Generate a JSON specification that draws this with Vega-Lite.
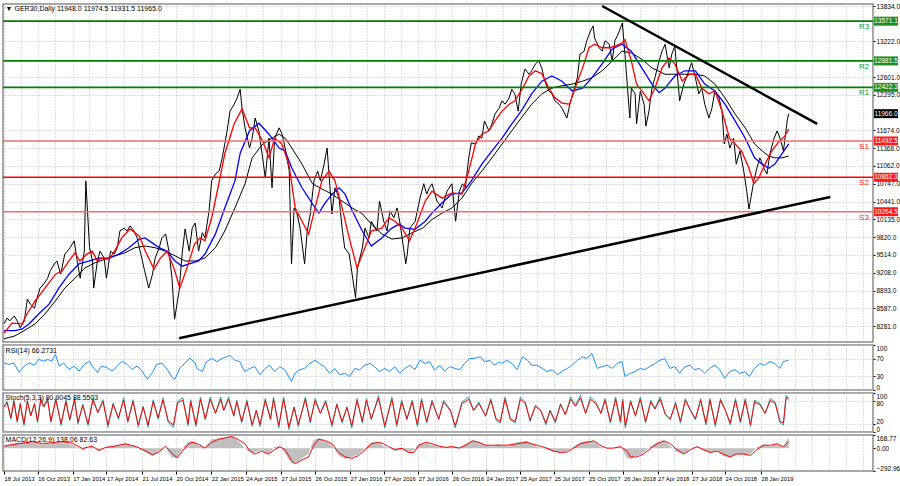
{
"$schema": "https://vega.github.io/schema/vega-lite/v6.json",
"background": "white",
"padding": {"left": 0, "top": 0, "right": 0, "bottom": 0},
"spacing": 3,
"bounds": "flush",
"config": {
 "view": {"stroke": "#8c8c8c", "strokeWidth": 1.5},
 "font": "Liberation Sans",
 "axis": {"labelFont": "Liberation Sans", "labelFontSize": 6.5, "labelColor": "#000000", "tickColor": "#000000", "domain": false, "gridColor": "#bcbcd0", "gridDash": [1, 2], "gridWidth": 1, "labelOverlap": false, "tickCount": 100}
},
"datasets": {
 "price": [
{"d":"2013-07-18","p":8320},{"d":"2013-07-26","p":8420},{"d":"2013-08-02","p":8370},{"d":"2013-08-14","p":8455},{"d":"2013-08-22","p":8370},{"d":"2013-08-30","p":8250},{"d":"2013-09-10","p":8370},{"d":"2013-09-18","p":8750},{"d":"2013-09-26","p":8660},{"d":"2013-10-07","p":8590},{"d":"2013-10-14","p":8770},{"d":"2013-10-22","p":8940},{"d":"2013-11-01","p":9010},{"d":"2013-11-11","p":9110},{"d":"2013-11-18","p":9240},{"d":"2013-11-29","p":9360},{"d":"2013-12-06","p":9410},{"d":"2013-12-16","p":9180},{"d":"2013-12-27","p":9530},{"d":"2014-01-03","p":9580},{"d":"2014-01-10","p":9640},{"d":"2014-01-21","p":9760},{"d":"2014-01-29","p":9410},{"d":"2014-02-06","p":9110},{"d":"2014-02-17","p":9580},{"d":"2014-02-21","p":10800},{"d":"2014-03-03","p":9640},{"d":"2014-03-11","p":9410},{"d":"2014-03-14","p":8940},{"d":"2014-03-24","p":9410},{"d":"2014-03-31","p":9580},{"d":"2014-04-11","p":9460},{"d":"2014-04-17","p":9110},{"d":"2014-04-28","p":9580},{"d":"2014-05-08","p":9530},{"d":"2014-05-16","p":9640},{"d":"2014-05-23","p":9930},{"d":"2014-06-03","p":9980},{"d":"2014-06-11","p":9930},{"d":"2014-06-19","p":10020},{"d":"2014-06-30","p":9930},{"d":"2014-07-08","p":9810},{"d":"2014-07-16","p":9580},{"d":"2014-07-28","p":9240},{"d":"2014-08-08","p":8940},{"d":"2014-08-18","p":9180},{"d":"2014-08-25","p":9460},{"d":"2014-09-05","p":9640},{"d":"2014-09-12","p":9810},{"d":"2014-09-22","p":9880},{"d":"2014-10-01","p":9580},{"d":"2014-10-09","p":9110},{"d":"2014-10-16","p":8400},{"d":"2014-10-28","p":8890},{"d":"2014-11-05","p":9530},{"d":"2014-11-13","p":9965},{"d":"2014-11-24","p":9580},{"d":"2014-12-02","p":9980},{"d":"2014-12-10","p":10070},{"d":"2014-12-19","p":9580},{"d":"2014-12-29","p":9900},{"d":"2015-01-05","p":9810},{"d":"2015-01-16","p":10280},{"d":"2015-01-23","p":10800},{"d":"2015-02-02","p":10920},{"d":"2015-02-12","p":10970},{"d":"2015-02-20","p":11200},{"d":"2015-02-25","p":11370},{"d":"2015-03-05","p":11665},{"d":"2015-03-13","p":12010},{"d":"2015-03-24","p":12130},{"d":"2015-04-01","p":12240},{"d":"2015-04-09","p":12390},{"d":"2015-04-14","p":12060},{"d":"2015-04-22","p":11720},{"d":"2015-05-04","p":11370},{"d":"2015-05-11","p":11540},{"d":"2015-05-19","p":11890},{"d":"2015-05-29","p":11665},{"d":"2015-06-08","p":11200},{"d":"2015-06-15","p":10850},{"d":"2015-06-25","p":11540},{"d":"2015-07-03","p":10680},{"d":"2015-07-10","p":11540},{"d":"2015-07-22","p":11720},{"d":"2015-07-30","p":11610},{"d":"2015-08-07","p":11370},{"d":"2015-08-18","p":10970},{"d":"2015-08-24","p":9360},{"d":"2015-08-31","p":10330},{"d":"2015-09-08","p":10225},{"d":"2015-09-16","p":9980},{"d":"2015-09-28","p":9360},{"d":"2015-10-05","p":9930},{"d":"2015-10-13","p":10225},{"d":"2015-10-23","p":10800},{"d":"2015-11-02","p":10970},{"d":"2015-11-09","p":10800},{"d":"2015-11-19","p":11090},{"d":"2015-11-27","p":11370},{"d":"2015-12-02","p":10920},{"d":"2015-12-10","p":10225},{"d":"2015-12-18","p":10680},{"d":"2015-12-29","p":10500},{"d":"2016-01-06","p":9980},{"d":"2016-01-13","p":9635},{"d":"2016-01-25","p":9530},{"d":"2016-02-11","p":8770},{"d":"2016-02-16","p":9290},{"d":"2016-02-29","p":9635},{"d":"2016-03-07","p":9980},{"d":"2016-03-18","p":9810},{"d":"2016-03-24","p":10100},{"d":"2016-04-08","p":9930},{"d":"2016-04-15","p":10450},{"d":"2016-04-26","p":10100},{"d":"2016-05-05","p":9930},{"d":"2016-05-13","p":10280},{"d":"2016-05-23","p":10160},{"d":"2016-06-01","p":10330},{"d":"2016-06-09","p":10050},{"d":"2016-06-24","p":9360},{"d":"2016-06-28","p":9530},{"d":"2016-07-05","p":9980},{"d":"2016-07-19","p":10100},{"d":"2016-08-01","p":10500},{"d":"2016-08-11","p":10750},{"d":"2016-08-19","p":10570},{"d":"2016-08-26","p":10680},{"d":"2016-09-02","p":10750},{"d":"2016-09-15","p":10450},{"d":"2016-09-29","p":10330},{"d":"2016-10-12","p":10620},{"d":"2016-10-25","p":10750},{"d":"2016-11-04","p":10100},{"d":"2016-11-14","p":10620},{"d":"2016-11-22","p":10750},{"d":"2016-11-30","p":10680},{"d":"2016-12-09","p":11200},{"d":"2016-12-16","p":11460},{"d":"2016-12-27","p":11440},{"d":"2017-01-05","p":11580},{"d":"2017-01-13","p":11540},{"d":"2017-01-20","p":11840},{"d":"2017-02-01","p":11665},{"d":"2017-02-09","p":11790},{"d":"2017-02-17","p":11960},{"d":"2017-02-28","p":12060},{"d":"2017-03-08","p":12190},{"d":"2017-03-16","p":12130},{"d":"2017-03-27","p":12240},{"d":"2017-04-03","p":12390},{"d":"2017-04-11","p":12310},{"d":"2017-04-20","p":12010},{"d":"2017-04-28","p":12480},{"d":"2017-05-08","p":12740},{"d":"2017-05-19","p":12650},{"d":"2017-05-26","p":12710},{"d":"2017-06-05","p":12830},{"d":"2017-06-14","p":12880},{"d":"2017-06-22","p":12760},{"d":"2017-06-30","p":12530},{"d":"2017-07-11","p":12360},{"d":"2017-07-19","p":12310},{"d":"2017-07-27","p":12190},{"d":"2017-08-07","p":12130},{"d":"2017-08-15","p":12060},{"d":"2017-08-28","p":11890},{"d":"2017-09-05","p":12130},{"d":"2017-09-15","p":12360},{"d":"2017-09-25","p":12590},{"d":"2017-10-02","p":13000},{"d":"2017-10-13","p":13050},{"d":"2017-10-20","p":13230},{"d":"2017-10-30","p":13400},{"d":"2017-11-06","p":13490},{"d":"2017-11-10","p":13280},{"d":"2017-11-22","p":13110},{"d":"2017-11-30","p":13050},{"d":"2017-12-08","p":13230},{"d":"2017-12-19","p":13170},{"d":"2017-12-27","p":12880},{"d":"2018-01-03","p":13230},{"d":"2018-01-12","p":13350},{"d":"2018-01-23","p":13540},{"d":"2018-01-30","p":13000},{"d":"2018-02-05","p":12480},{"d":"2018-02-09","p":12130},{"d":"2018-02-12","p":11890},{"d":"2018-02-16","p":12410},{"d":"2018-02-26","p":12310},{"d":"2018-03-02","p":11790},{"d":"2018-03-12","p":12360},{"d":"2018-03-22","p":12130},{"d":"2018-03-27","p":11750},{"d":"2018-04-04","p":12010},{"d":"2018-04-12","p":12410},{"d":"2018-04-20","p":12590},{"d":"2018-05-01","p":12880},{"d":"2018-05-09","p":13050},{"d":"2018-05-17","p":13170},{"d":"2018-05-28","p":12760},{"d":"2018-06-04","p":13000},{"d":"2018-06-12","p":13140},{"d":"2018-06-18","p":12710},{"d":"2018-06-25","p":12190},{"d":"2018-07-06","p":12480},{"d":"2018-07-13","p":12590},{"d":"2018-07-27","p":12850},{"d":"2018-08-06","p":12590},{"d":"2018-08-15","p":12310},{"d":"2018-08-23","p":12410},{"d":"2018-08-31","p":12130},{"d":"2018-09-11","p":11890},{"d":"2018-09-19","p":12060},{"d":"2018-09-27","p":12360},{"d":"2018-10-08","p":12240},{"d":"2018-10-16","p":12010},{"d":"2018-10-22","p":11440},{"d":"2018-10-29","p":11610},{"d":"2018-11-06","p":11370},{"d":"2018-11-16","p":11540},{"d":"2018-11-23","p":11090},{"d":"2018-12-03","p":11320},{"d":"2018-12-13","p":10970},{"d":"2018-12-21","p":10620},{"d":"2018-12-27","p":10310},{"d":"2019-01-09","p":10800},{"d":"2019-01-17","p":11020},{"d":"2019-01-25","p":11200},{"d":"2019-02-05","p":11020},{"d":"2019-02-13","p":10920},{"d":"2019-02-21","p":11270},{"d":"2019-03-04","p":11540},{"d":"2019-03-12","p":11665},{"d":"2019-03-20","p":11540},{"d":"2019-03-29","p":11320},{"d":"2019-04-08","p":11840},{"d":"2019-04-12","p":11965}
 ],
 "ma_fast": [
{"d":"2013-07-18","p":8160},{"d":"2013-08-08","p":8330},{"d":"2013-09-04","p":8320},{"d":"2013-09-17","p":8490},{"d":"2013-10-09","p":8720},{"d":"2013-11-04","p":8940},{"d":"2013-12-02","p":9180},{"d":"2013-12-20","p":9240},{"d":"2014-01-07","p":9410},{"d":"2014-01-23","p":9550},{"d":"2014-02-05","p":9410},{"d":"2014-02-24","p":9530},{"d":"2014-03-10","p":9580},{"d":"2014-03-24","p":9410},{"d":"2014-04-04","p":9460},{"d":"2014-04-24","p":9440},{"d":"2014-05-09","p":9580},{"d":"2014-05-28","p":9810},{"d":"2014-06-19","p":9965},{"d":"2014-07-14","p":9840},{"d":"2014-07-30","p":9580},{"d":"2014-08-22","p":9270},{"d":"2014-09-08","p":9460},{"d":"2014-09-26","p":9580},{"d":"2014-10-14","p":9290},{"d":"2014-10-30","p":8940},{"d":"2014-11-18","p":9290},{"d":"2014-12-08","p":9700},{"d":"2014-12-23","p":9810},{"d":"2015-01-05","p":9760},{"d":"2015-01-23","p":10160},{"d":"2015-02-11","p":10750},{"d":"2015-02-27","p":11270},{"d":"2015-03-24","p":11790},{"d":"2015-04-14","p":12050},{"d":"2015-05-04","p":11720},{"d":"2015-05-19","p":11720},{"d":"2015-06-08","p":11490},{"d":"2015-06-25","p":11200},{"d":"2015-07-10","p":11540},{"d":"2015-07-29","p":11440},{"d":"2015-08-17","p":11090},{"d":"2015-09-03","p":10330},{"d":"2015-09-21","p":10100},{"d":"2015-10-09","p":9880},{"d":"2015-10-26","p":10330},{"d":"2015-11-13","p":10800},{"d":"2015-12-02","p":10970},{"d":"2015-12-18","p":10800},{"d":"2016-01-06","p":10330},{"d":"2016-01-25","p":9810},{"d":"2016-02-15","p":9290},{"d":"2016-03-07","p":9640},{"d":"2016-03-24","p":9930},{"d":"2016-04-21","p":9980},{"d":"2016-05-10","p":10160},{"d":"2016-05-26","p":10100},{"d":"2016-06-14","p":9980},{"d":"2016-07-04","p":9760},{"d":"2016-07-19","p":9980},{"d":"2016-08-15","p":10450},{"d":"2016-09-02","p":10620},{"d":"2016-09-29","p":10500},{"d":"2016-10-25","p":10590},{"d":"2016-11-21","p":10570},{"d":"2016-12-09","p":10970},{"d":"2016-12-27","p":11440},{"d":"2017-01-13","p":11610},{"d":"2017-02-01","p":11670},{"d":"2017-02-17","p":11840},{"d":"2017-03-08","p":12010},{"d":"2017-03-27","p":12130},{"d":"2017-04-11","p":12190},{"d":"2017-04-28","p":12360},{"d":"2017-05-19","p":12620},{"d":"2017-06-05","p":12710},{"d":"2017-06-22","p":12660},{"d":"2017-07-11","p":12410},{"d":"2017-07-27","p":12240},{"d":"2017-08-15","p":12150},{"d":"2017-09-04","p":12130},{"d":"2017-09-19","p":12410},{"d":"2017-10-09","p":12760},{"d":"2017-10-26","p":13110},{"d":"2017-11-10","p":13170},{"d":"2017-11-30","p":13110},{"d":"2017-12-19","p":13110},{"d":"2018-01-04","p":13140},{"d":"2018-01-22","p":13190},{"d":"2018-01-30","p":13250},{"d":"2018-02-16","p":12880},{"d":"2018-03-02","p":12480},{"d":"2018-03-16","p":12360},{"d":"2018-04-04","p":12190},{"d":"2018-04-20","p":12410},{"d":"2018-05-09","p":12760},{"d":"2018-05-28","p":12930},{"d":"2018-06-12","p":12830},{"d":"2018-07-02","p":12530},{"d":"2018-07-20","p":12650},{"d":"2018-08-06","p":12650},{"d":"2018-08-23","p":12410},{"d":"2018-09-11","p":12310},{"d":"2018-09-27","p":12360},{"d":"2018-10-16","p":12010},{"d":"2018-11-05","p":11540},{"d":"2018-11-20","p":11440},{"d":"2018-12-07","p":11320},{"d":"2018-12-27","p":11020},{"d":"2019-01-09","p":10750},{"d":"2019-01-22","p":10850},{"d":"2019-02-08","p":11090},{"d":"2019-02-26","p":11320},{"d":"2019-03-18","p":11490},{"d":"2019-04-02","p":11580},{"d":"2019-04-12","p":11700}
 ],
 "ma_mid": [
{"d":"2013-07-18","p":8200},{"d":"2013-08-16","p":8200},{"d":"2013-09-04","p":8230},{"d":"2013-09-23","p":8320},{"d":"2013-10-18","p":8490},{"d":"2013-11-15","p":8660},{"d":"2013-12-11","p":8940},{"d":"2014-01-07","p":9180},{"d":"2014-02-03","p":9360},{"d":"2014-03-03","p":9410},{"d":"2014-03-28","p":9460},{"d":"2014-04-24","p":9460},{"d":"2014-05-21","p":9530},{"d":"2014-06-16","p":9640},{"d":"2014-07-14","p":9790},{"d":"2014-07-29","p":9810},{"d":"2014-08-18","p":9720},{"d":"2014-09-05","p":9640},{"d":"2014-09-26","p":9580},{"d":"2014-10-17","p":9410},{"d":"2014-11-05","p":9320},{"d":"2014-11-24","p":9360},{"d":"2014-12-19","p":9410},{"d":"2015-01-05","p":9530},{"d":"2015-02-02","p":9880},{"d":"2015-02-27","p":10330},{"d":"2015-03-26","p":10800},{"d":"2015-04-09","p":11280},{"d":"2015-05-04","p":11670},{"d":"2015-05-29","p":11800},{"d":"2015-06-25","p":11610},{"d":"2015-07-22","p":11370},{"d":"2015-08-07","p":11320},{"d":"2015-08-25","p":11020},{"d":"2015-09-21","p":10680},{"d":"2015-10-19","p":10400},{"d":"2015-11-05","p":10240},{"d":"2015-11-20","p":10400},{"d":"2015-12-10","p":10570},{"d":"2015-12-29","p":10680},{"d":"2016-01-14","p":10570},{"d":"2016-02-02","p":10280},{"d":"2016-02-29","p":9930},{"d":"2016-03-24","p":9670},{"d":"2016-04-21","p":9810},{"d":"2016-05-18","p":9980},{"d":"2016-06-06","p":10050},{"d":"2016-06-22","p":9980},{"d":"2016-07-19","p":9960},{"d":"2016-08-15","p":10100},{"d":"2016-09-02","p":10240},{"d":"2016-09-29","p":10420},{"d":"2016-10-25","p":10570},{"d":"2016-11-21","p":10590},{"d":"2016-12-16","p":10800},{"d":"2017-01-13","p":11090},{"d":"2017-02-09","p":11320},{"d":"2017-03-08","p":11540},{"d":"2017-04-03","p":11790},{"d":"2017-04-28","p":12010},{"d":"2017-05-26","p":12310},{"d":"2017-06-22","p":12530},{"d":"2017-07-19","p":12620},{"d":"2017-08-15","p":12530},{"d":"2017-09-11","p":12360},{"d":"2017-10-09","p":12410},{"d":"2017-11-03","p":12590},{"d":"2017-11-30","p":12830},{"d":"2017-12-27","p":13090},{"d":"2018-01-22","p":13170},{"d":"2018-02-16","p":13050},{"d":"2018-03-16","p":12760},{"d":"2018-04-12","p":12480},{"d":"2018-05-01","p":12330},{"d":"2018-05-17","p":12410},{"d":"2018-06-12","p":12620},{"d":"2018-07-09","p":12710},{"d":"2018-08-06","p":12710},{"d":"2018-08-31","p":12480},{"d":"2018-09-27","p":12360},{"d":"2018-10-24","p":12130},{"d":"2018-11-20","p":11840},{"d":"2018-12-17","p":11540},{"d":"2019-01-11","p":11200},{"d":"2019-01-31","p":11090},{"d":"2019-02-18","p":11020},{"d":"2019-03-06","p":11090},{"d":"2019-03-25","p":11270},{"d":"2019-04-12","p":11440}
 ],
 "ma_slow": [
{"d":"2013-07-18","p":8060},{"d":"2013-08-16","p":8110},{"d":"2013-09-09","p":8200},{"d":"2013-10-09","p":8320},{"d":"2013-11-04","p":8490},{"d":"2013-12-02","p":8720},{"d":"2013-12-27","p":8940},{"d":"2014-01-23","p":9110},{"d":"2014-02-19","p":9290},{"d":"2014-03-18","p":9380},{"d":"2014-04-14","p":9440},{"d":"2014-05-09","p":9500},{"d":"2014-06-05","p":9550},{"d":"2014-07-02","p":9640},{"d":"2014-07-29","p":9670},{"d":"2014-08-25","p":9640},{"d":"2014-09-22","p":9580},{"d":"2014-10-17","p":9500},{"d":"2014-11-13","p":9410},{"d":"2014-12-10","p":9410},{"d":"2015-01-05","p":9460},{"d":"2015-02-02","p":9640},{"d":"2015-02-27","p":9930},{"d":"2015-03-26","p":10330},{"d":"2015-04-22","p":10750},{"d":"2015-05-11","p":11200},{"d":"2015-06-08","p":11440},{"d":"2015-07-03","p":11540},{"d":"2015-07-22","p":11610},{"d":"2015-08-07","p":11540},{"d":"2015-08-25","p":11370},{"d":"2015-09-21","p":11090},{"d":"2015-10-19","p":10750},{"d":"2015-11-13","p":10660},{"d":"2015-12-10","p":10570},{"d":"2016-01-06","p":10450},{"d":"2016-02-02","p":10330},{"d":"2016-02-29","p":10230},{"d":"2016-03-24","p":10050},{"d":"2016-04-21","p":9880},{"d":"2016-05-18","p":9790},{"d":"2016-06-14","p":9810},{"d":"2016-07-11","p":9900},{"d":"2016-08-08","p":9980},{"d":"2016-09-02","p":10130},{"d":"2016-09-29","p":10240},{"d":"2016-10-25","p":10330},{"d":"2016-11-21","p":10500},{"d":"2016-12-16","p":10750},{"d":"2017-01-13","p":10970},{"d":"2017-02-09","p":11200},{"d":"2017-03-08","p":11440},{"d":"2017-04-03","p":11670},{"d":"2017-04-28","p":11890},{"d":"2017-05-26","p":12130},{"d":"2017-06-22","p":12310},{"d":"2017-07-19","p":12410},{"d":"2017-08-15","p":12450},{"d":"2017-09-11","p":12480},{"d":"2017-10-09","p":12530},{"d":"2017-11-03","p":12590},{"d":"2017-11-30","p":12710},{"d":"2017-12-27","p":12880},{"d":"2018-01-22","p":13050},{"d":"2018-02-16","p":13020},{"d":"2018-03-16","p":12910},{"d":"2018-04-12","p":12760},{"d":"2018-05-17","p":12650},{"d":"2018-06-12","p":12650},{"d":"2018-07-09","p":12650},{"d":"2018-08-06","p":12650},{"d":"2018-08-31","p":12620},{"d":"2018-09-27","p":12480},{"d":"2018-10-24","p":12240},{"d":"2018-11-20","p":11960},{"d":"2018-12-17","p":11720},{"d":"2019-01-11","p":11440},{"d":"2019-01-31","p":11320},{"d":"2019-02-18","p":11230},{"d":"2019-03-06","p":11200},{"d":"2019-03-25","p":11200},{"d":"2019-04-12","p":11230}
 ],
 "levels": [
{"name":"R3","p":13571.1},{"name":"R2","p":12881.5},{"name":"R1","p":12422.3},{"name":"S1","p":11492.5},{"name":"S2","p":10862.3},{"name":"S3","p":10264.5},{"name":"Last","p":11966.0}
 ],
 "trend": [
{"line":"upper","d":"2017-11-30","p":13834},{"line":"upper","d":"2019-06-27","p":11790},{"line":"lower","d":"2014-10-28","p":8070},{"line":"lower","d":"2019-08-01","p":10520}
 ],
 "rsi": [
{"d":"2013-07-18","v":60},{"d":"2013-07-31","v":57},{"d":"2013-08-13","v":60},{"d":"2013-08-27","v":39},{"d":"2013-09-09","v":53},{"d":"2013-09-23","v":60},{"d":"2013-10-07","v":55},{"d":"2013-10-18","v":68},{"d":"2013-11-01","v":64},{"d":"2013-11-11","v":68},{"d":"2013-11-22","v":64},{"d":"2013-12-02","v":79},{"d":"2013-12-12","v":53},{"d":"2013-12-24","v":60},{"d":"2014-01-07","v":46},{"d":"2014-01-21","v":53},{"d":"2014-02-03","v":42},{"d":"2014-02-17","v":57},{"d":"2014-03-03","v":64},{"d":"2014-03-10","v":53},{"d":"2014-03-24","v":39},{"d":"2014-04-04","v":53},{"d":"2014-04-18","v":50},{"d":"2014-05-02","v":42},{"d":"2014-05-16","v":53},{"d":"2014-05-29","v":64},{"d":"2014-06-11","v":57},{"d":"2014-06-24","v":46},{"d":"2014-07-08","v":53},{"d":"2014-07-21","v":42},{"d":"2014-08-04","v":24},{"d":"2014-08-18","v":39},{"d":"2014-08-29","v":57},{"d":"2014-09-12","v":60},{"d":"2014-09-26","v":46},{"d":"2014-10-09","v":28},{"d":"2014-10-17","v":24},{"d":"2014-10-31","v":50},{"d":"2014-11-13","v":60},{"d":"2014-11-26","v":71},{"d":"2014-12-10","v":60},{"d":"2014-12-14","v":48},{"d":"2014-12-29","v":41},{"d":"2015-01-09","v":63},{"d":"2015-01-23","v":70},{"d":"2015-02-06","v":63},{"d":"2015-02-19","v":70},{"d":"2015-03-04","v":74},{"d":"2015-03-13","v":77},{"d":"2015-03-26","v":66},{"d":"2015-04-08","v":63},{"d":"2015-04-21","v":41},{"d":"2015-05-05","v":48},{"d":"2015-05-18","v":52},{"d":"2015-06-01","v":34},{"d":"2015-06-15","v":48},{"d":"2015-06-26","v":55},{"d":"2015-07-10","v":41},{"d":"2015-07-24","v":52},{"d":"2015-08-06","v":45},{"d":"2015-08-24","v":19},{"d":"2015-09-02","v":37},{"d":"2015-09-15","v":45},{"d":"2015-09-28","v":48},{"d":"2015-10-12","v":59},{"d":"2015-10-26","v":66},{"d":"2015-11-06","v":59},{"d":"2015-11-20","v":52},{"d":"2015-12-04","v":37},{"d":"2015-12-17","v":48},{"d":"2015-12-30","v":34},{"d":"2016-01-13","v":37},{"d":"2016-01-26","v":30},{"d":"2016-02-09","v":48},{"d":"2016-02-22","v":45},{"d":"2016-03-07","v":55},{"d":"2016-03-21","v":59},{"d":"2016-04-01","v":52},{"d":"2016-04-15","v":41},{"d":"2016-04-29","v":48},{"d":"2016-05-12","v":41},{"d":"2016-05-26","v":52},{"d":"2016-06-08","v":37},{"d":"2016-06-22","v":48},{"d":"2016-07-05","v":55},{"d":"2016-07-18","v":45},{"d":"2016-08-01","v":66},{"d":"2016-08-15","v":59},{"d":"2016-08-26","v":63},{"d":"2016-09-09","v":45},{"d":"2016-09-23","v":55},{"d":"2016-10-06","v":41},{"d":"2016-10-19","v":52},{"d":"2016-11-02","v":48},{"d":"2016-11-15","v":45},{"d":"2016-11-28","v":59},{"d":"2016-12-12","v":70},{"d":"2016-12-23","v":70},{"d":"2017-01-09","v":74},{"d":"2017-01-20","v":63},{"d":"2017-02-03","v":66},{"d":"2017-02-16","v":55},{"d":"2017-03-02","v":63},{"d":"2017-03-07","v":59},{"d":"2017-03-21","v":66},{"d":"2017-04-03","v":59},{"d":"2017-04-17","v":45},{"d":"2017-05-01","v":74},{"d":"2017-05-15","v":66},{"d":"2017-05-26","v":55},{"d":"2017-06-09","v":55},{"d":"2017-06-23","v":48},{"d":"2017-07-06","v":41},{"d":"2017-07-20","v":45},{"d":"2017-08-02","v":34},{"d":"2017-08-15","v":41},{"d":"2017-08-29","v":48},{"d":"2017-09-11","v":55},{"d":"2017-09-25","v":66},{"d":"2017-10-09","v":74},{"d":"2017-10-20","v":70},{"d":"2017-11-03","v":81},{"d":"2017-11-17","v":48},{"d":"2017-11-30","v":52},{"d":"2017-12-13","v":55},{"d":"2017-12-27","v":48},{"d":"2018-01-09","v":59},{"d":"2018-01-22","v":63},{"d":"2018-01-30","v":30},{"d":"2018-02-13","v":37},{"d":"2018-02-26","v":41},{"d":"2018-03-12","v":48},{"d":"2018-03-23","v":45},{"d":"2018-04-06","v":52},{"d":"2018-04-20","v":59},{"d":"2018-05-03","v":66},{"d":"2018-05-16","v":70},{"d":"2018-05-30","v":48},{"d":"2018-06-12","v":52},{"d":"2018-06-25","v":37},{"d":"2018-07-09","v":52},{"d":"2018-07-23","v":55},{"d":"2018-08-03","v":45},{"d":"2018-08-17","v":48},{"d":"2018-08-31","v":37},{"d":"2018-09-13","v":48},{"d":"2018-09-27","v":55},{"d":"2018-10-10","v":45},{"d":"2018-10-23","v":26},{"d":"2018-11-06","v":41},{"d":"2018-11-19","v":45},{"d":"2018-12-03","v":37},{"d":"2018-12-17","v":41},{"d":"2018-12-28","v":30},{"d":"2019-01-11","v":48},{"d":"2019-01-25","v":59},{"d":"2019-02-07","v":55},{"d":"2019-02-21","v":63},{"d":"2019-03-06","v":59},{"d":"2019-03-19","v":48},{"d":"2019-03-29","v":63},{"d":"2019-04-12","v":66.27}
 ],
 "stoch": [
{"d":"2013-07-18","k":66,"s":64},{"d":"2013-07-26","k":79,"s":75},{"d":"2013-08-05","k":33,"s":36},{"d":"2013-08-13","k":83,"s":78},{"d":"2013-08-22","k":24,"s":28},{"d":"2013-08-30","k":75,"s":71},{"d":"2013-09-09","k":16,"s":21},{"d":"2013-09-18","k":83,"s":78},{"d":"2013-09-27","k":41,"s":42},{"d":"2013-10-07","k":75,"s":71},{"d":"2013-10-15","k":24,"s":28},{"d":"2013-10-24","k":88,"s":82},{"d":"2013-11-01","k":66,"s":64},{"d":"2013-11-11","k":88,"s":82},{"d":"2013-11-20","k":24,"s":28},{"d":"2013-12-03","k":88,"s":82},{"d":"2013-12-17","k":16,"s":21},{"d":"2013-12-30","k":83,"s":78},{"d":"2014-01-09","k":29,"s":32},{"d":"2014-01-22","k":88,"s":82},{"d":"2014-01-31","k":20,"s":25},{"d":"2014-02-13","k":71,"s":68},{"d":"2014-02-27","k":16,"s":21},{"d":"2014-03-12","k":88,"s":82},{"d":"2014-03-25","k":50,"s":50},{"d":"2014-04-08","k":83,"s":78},{"d":"2014-04-21","k":12,"s":18},{"d":"2014-05-05","k":75,"s":71},{"d":"2014-05-19","k":33,"s":36},{"d":"2014-06-02","k":88,"s":82},{"d":"2014-06-13","k":24,"s":28},{"d":"2014-06-27","k":83,"s":78},{"d":"2014-07-11","k":12,"s":18},{"d":"2014-07-24","k":66,"s":64},{"d":"2014-08-06","k":12,"s":18},{"d":"2014-08-20","k":83,"s":78},{"d":"2014-09-02","k":33,"s":36},{"d":"2014-09-15","k":88,"s":82},{"d":"2014-09-29","k":24,"s":28},{"d":"2014-10-13","k":12,"s":18},{"d":"2014-10-24","k":79,"s":75},{"d":"2014-11-07","k":88,"s":82},{"d":"2014-11-21","k":16,"s":21},{"d":"2014-11-28","k":83,"s":78},{"d":"2014-12-12","k":14,"s":19},{"d":"2014-12-24","k":90,"s":84},{"d":"2015-01-06","k":31,"s":34},{"d":"2015-01-19","k":90,"s":84},{"d":"2015-02-02","k":48,"s":48},{"d":"2015-02-16","k":90,"s":84},{"d":"2015-02-24","k":56,"s":55},{"d":"2015-03-09","k":90,"s":84},{"d":"2015-03-23","k":40,"s":42},{"d":"2015-03-31","k":82,"s":77},{"d":"2015-04-13","k":23,"s":27},{"d":"2015-04-27","k":82,"s":77},{"d":"2015-05-11","k":14,"s":19},{"d":"2015-05-22","k":56,"s":55},{"d":"2015-06-01","k":14,"s":19},{"d":"2015-06-15","k":86,"s":81},{"d":"2015-06-29","k":31,"s":34},{"d":"2015-07-07","k":90,"s":84},{"d":"2015-07-21","k":10,"s":16},{"d":"2015-08-03","k":90,"s":84},{"d":"2015-08-17","k":6,"s":13},{"d":"2015-08-31","k":65,"s":63},{"d":"2015-09-11","k":14,"s":19},{"d":"2015-09-30","k":90,"s":84},{"d":"2015-10-13","k":23,"s":27},{"d":"2015-10-26","k":86,"s":81},{"d":"2015-11-09","k":48,"s":48},{"d":"2015-11-23","k":82,"s":77},{"d":"2015-12-10","k":14,"s":19},{"d":"2015-12-23","k":73,"s":70},{"d":"2016-01-06","k":23,"s":27},{"d":"2016-01-19","k":65,"s":63},{"d":"2016-02-01","k":10,"s":16},{"d":"2016-02-15","k":86,"s":81},{"d":"2016-02-29","k":23,"s":27},{"d":"2016-03-11","k":86,"s":81},{"d":"2016-03-24","k":31,"s":34},{"d":"2016-04-12","k":94,"s":87},{"d":"2016-04-29","k":10,"s":16},{"d":"2016-05-18","k":90,"s":84},{"d":"2016-05-31","k":14,"s":19},{"d":"2016-06-13","k":82,"s":77},{"d":"2016-06-27","k":31,"s":34},{"d":"2016-07-11","k":82,"s":77},{"d":"2016-07-25","k":14,"s":19},{"d":"2016-08-05","k":86,"s":81},{"d":"2016-08-19","k":23,"s":27},{"d":"2016-09-02","k":82,"s":77},{"d":"2016-09-20","k":31,"s":34},{"d":"2016-10-03","k":82,"s":77},{"d":"2016-10-21","k":56,"s":55},{"d":"2016-11-03","k":10,"s":16},{"d":"2016-11-21","k":77,"s":73},{"d":"2016-12-09","k":90,"s":84},{"d":"2016-12-22","k":56,"s":55},{"d":"2017-01-05","k":77,"s":73},{"d":"2017-01-23","k":40,"s":42},{"d":"2017-02-06","k":86,"s":81},{"d":"2017-02-20","k":31,"s":34},{"d":"2017-03-03","k":23,"s":27},{"d":"2017-03-16","k":90,"s":84},{"d":"2017-03-30","k":31,"s":34},{"d":"2017-04-12","k":23,"s":27},{"d":"2017-04-26","k":90,"s":84},{"d":"2017-05-09","k":77,"s":73},{"d":"2017-05-22","k":27,"s":30},{"d":"2017-06-05","k":69,"s":66},{"d":"2017-06-19","k":56,"s":55},{"d":"2017-07-03","k":18,"s":23},{"d":"2017-07-14","k":56,"s":55},{"d":"2017-07-28","k":23,"s":27},{"d":"2017-08-11","k":73,"s":70},{"d":"2017-08-24","k":44,"s":45},{"d":"2017-09-07","k":90,"s":84},{"d":"2017-09-20","k":69,"s":66},{"d":"2017-10-03","k":94,"s":87},{"d":"2017-10-17","k":48,"s":48},{"d":"2017-10-30","k":90,"s":84},{"d":"2017-11-13","k":77,"s":73},{"d":"2017-11-27","k":48,"s":48},{"d":"2017-12-08","k":86,"s":81},{"d":"2017-12-22","k":23,"s":27},{"d":"2018-01-05","k":90,"s":84},{"d":"2018-01-18","k":23,"s":27},{"d":"2018-01-24","k":85,"s":80},{"d":"2018-01-31","k":10,"s":16},{"d":"2018-02-14","k":82,"s":77},{"d":"2018-02-27","k":40,"s":42},{"d":"2018-03-12","k":90,"s":84},{"d":"2018-03-26","k":23,"s":27},{"d":"2018-04-09","k":82,"s":77},{"d":"2018-04-20","k":61,"s":59},{"d":"2018-05-04","k":90,"s":84},{"d":"2018-05-18","k":44,"s":45},{"d":"2018-05-31","k":31,"s":34},{"d":"2018-06-14","k":77,"s":73},{"d":"2018-06-27","k":23,"s":27},{"d":"2018-07-10","k":86,"s":81},{"d":"2018-07-24","k":56,"s":55},{"d":"2018-08-06","k":31,"s":34},{"d":"2018-08-20","k":86,"s":81},{"d":"2018-09-03","k":18,"s":23},{"d":"2018-09-14","k":86,"s":81},{"d":"2018-09-28","k":14,"s":19},{"d":"2018-10-12","k":86,"s":81},{"d":"2018-10-25","k":56,"s":55},{"d":"2018-11-07","k":18,"s":23},{"d":"2018-11-21","k":86,"s":81},{"d":"2018-12-04","k":23,"s":27},{"d":"2018-12-17","k":86,"s":81},{"d":"2018-12-31","k":14,"s":19},{"d":"2019-01-11","k":82,"s":77},{"d":"2019-01-25","k":73,"s":70},{"d":"2019-02-08","k":48,"s":48},{"d":"2019-02-22","k":86,"s":81},{"d":"2019-03-07","k":77,"s":73},{"d":"2019-03-20","k":23,"s":27},{"d":"2019-03-29","k":18,"s":23},{"d":"2019-04-05","k":94,"s":87},{"d":"2019-04-12","k":80.9,"s":88.55}
 ],
 "macd": [
{"d":"2013-07-18","m":26,"s":26},{"d":"2013-08-08","m":56,"s":45},{"d":"2013-09-04","m":71,"s":64},{"d":"2013-10-02","m":71,"s":83},{"d":"2013-10-29","m":45,"s":56},{"d":"2013-11-22","m":64,"s":71},{"d":"2013-12-20","m":71,"s":83},{"d":"2014-01-16","m":45,"s":64},{"d":"2014-02-12","m":-30,"s":-4},{"d":"2014-03-10","m":26,"s":26},{"d":"2014-03-28","m":-41,"s":-30},{"d":"2014-04-14","m":8,"s":8},{"d":"2014-05-09","m":34,"s":26},{"d":"2014-06-06","m":56,"s":56},{"d":"2014-07-02","m":26,"s":26},{"d":"2014-07-29","m":-49,"s":-30},{"d":"2014-08-18","m":-105,"s":-86},{"d":"2014-09-04","m":-30,"s":-49},{"d":"2014-09-22","m":8,"s":26},{"d":"2014-10-09","m":-124,"s":-68},{"d":"2014-10-23","m":-124,"s":-124},{"d":"2014-11-10","m":26,"s":-11},{"d":"2014-11-24","m":83,"s":64},{"d":"2014-12-05","m":90,"s":75},{"d":"2014-12-19","m":35,"s":50},{"d":"2015-01-05","m":11,"s":0},{"d":"2015-01-23","m":113,"s":75},{"d":"2015-02-10","m":124,"s":113},{"d":"2015-02-27","m":131,"s":131},{"d":"2015-03-17","m":158,"s":150},{"d":"2015-04-03","m":94,"s":113},{"d":"2015-04-22","m":0,"s":56},{"d":"2015-05-05","m":-56,"s":-38},{"d":"2015-05-18","m":-56,"s":-75},{"d":"2015-06-05","m":-19,"s":-38},{"d":"2015-06-23","m":-75,"s":-75},{"d":"2015-07-10","m":19,"s":-19},{"d":"2015-07-24","m":26,"s":19},{"d":"2015-08-07","m":-75,"s":-19},{"d":"2015-08-25","m":-199,"s":-169},{"d":"2015-09-03","m":-188,"s":-199},{"d":"2015-09-21","m":-131,"s":-150},{"d":"2015-10-08","m":-75,"s":-113},{"d":"2015-10-21","m":94,"s":19},{"d":"2015-11-04","m":131,"s":113},{"d":"2015-11-20","m":94,"s":101},{"d":"2015-12-10","m":38,"s":56},{"d":"2015-12-28","m":-94,"s":-56},{"d":"2016-01-14","m":-139,"s":-113},{"d":"2016-02-01","m":-113,"s":-131},{"d":"2016-02-19","m":-75,"s":-94},{"d":"2016-03-08","m":0,"s":-19},{"d":"2016-03-24","m":75,"s":56},{"d":"2016-04-12","m":75,"s":75},{"d":"2016-04-26","m":26,"s":56},{"d":"2016-05-09","m":0,"s":19},{"d":"2016-05-27","m":-38,"s":-19},{"d":"2016-06-14","m":-19,"s":0},{"d":"2016-07-01","m":-56,"s":-56},{"d":"2016-07-15","m":-26,"s":-56},{"d":"2016-07-29","m":56,"s":38},{"d":"2016-08-16","m":64,"s":75},{"d":"2016-09-02","m":38,"s":56},{"d":"2016-09-21","m":19,"s":26},{"d":"2016-10-07","m":11,"s":11},{"d":"2016-10-26","m":26,"s":19},{"d":"2016-11-14","m":11,"s":0},{"d":"2016-12-01","m":56,"s":38},{"d":"2016-12-19","m":101,"s":94},{"d":"2017-01-05","m":75,"s":75},{"d":"2017-01-23","m":38,"s":38},{"d":"2017-02-09","m":26,"s":38},{"d":"2017-02-22","m":49,"s":38},{"d":"2017-03-21","m":26,"s":38},{"d":"2017-04-17","m":75,"s":56},{"d":"2017-05-12","m":94,"s":75},{"d":"2017-06-09","m":19,"s":38},{"d":"2017-07-06","m":-19,"s":0},{"d":"2017-07-24","m":-49,"s":-38},{"d":"2017-08-11","m":-56,"s":-56},{"d":"2017-08-29","m":-38,"s":-49},{"d":"2017-09-15","m":26,"s":0},{"d":"2017-10-03","m":75,"s":56},{"d":"2017-10-20","m":94,"s":75},{"d":"2017-11-08","m":86,"s":94},{"d":"2017-11-24","m":19,"s":38},{"d":"2017-12-13","m":0,"s":0},{"d":"2017-12-29","m":0,"s":0},{"d":"2018-01-18","m":26,"s":19},{"d":"2018-02-05","m":-131,"s":-38},{"d":"2018-02-14","m":-139,"s":-113},{"d":"2018-03-02","m":-101,"s":-113},{"d":"2018-03-21","m":-56,"s":-75},{"d":"2018-04-09","m":26,"s":0},{"d":"2018-04-26","m":75,"s":56},{"d":"2018-05-14","m":94,"s":94},{"d":"2018-05-31","m":26,"s":56},{"d":"2018-06-18","m":-49,"s":-19},{"d":"2018-07-06","m":-75,"s":-75},{"d":"2018-07-24","m":0,"s":-19},{"d":"2018-08-10","m":19,"s":19},{"d":"2018-08-28","m":-38,"s":-19},{"d":"2018-09-14","m":-56,"s":-56},{"d":"2018-10-03","m":-26,"s":-38},{"d":"2018-10-19","m":-101,"s":-75},{"d":"2018-11-07","m":-124,"s":-113},{"d":"2018-11-23","m":-75,"s":-75},{"d":"2018-12-13","m":-86,"s":-75},{"d":"2018-12-31","m":-75,"s":-94},{"d":"2019-01-17","m":11,"s":-19},{"d":"2019-02-04","m":49,"s":38},{"d":"2019-02-22","m":26,"s":38},{"d":"2019-03-12","m":49,"s":56},{"d":"2019-03-29","m":11,"s":19},{"d":"2019-04-05","m":90,"s":50},{"d":"2019-04-12","m":138.06,"s":82.63}
 ]
},
"vconcat": [
 {
  "width": 870, "height": 338,
  "layer": [
   {"data": {"name": "price"}, "mark": {"type": "line", "color": "#000000", "strokeWidth": 1},
    "encoding": {
     "x": {"field": "d", "type": "temporal", "title": null,
      "scale": {"type": "utc", "domain": [{"year":2013,"month":7,"date":15,"utc":true},{"year":2019,"month":11,"date":23,"utc":true}]},
      "axis": {"labels": false, "ticks": false, "grid": true, "domain": false, "title": null, "tickCount": 100,
       "values": [{"year":2013,"month":7,"date":18,"utc":true},{"year":2013,"month":9,"date":1,"utc":true},{"year":2013,"month":10,"date":16,"utc":true},{"year":2013,"month":12,"date":1,"utc":true},{"year":2014,"month":1,"date":17,"utc":true},{"year":2014,"month":3,"date":2,"utc":true},{"year":2014,"month":4,"date":17,"utc":true},{"year":2014,"month":6,"date":3,"utc":true},{"year":2014,"month":7,"date":21,"utc":true},{"year":2014,"month":9,"date":5,"utc":true},{"year":2014,"month":10,"date":20,"utc":true},{"year":2014,"month":12,"date":5,"utc":true},{"year":2015,"month":1,"date":22,"utc":true},{"year":2015,"month":3,"date":9,"utc":true},{"year":2015,"month":4,"date":24,"utc":true},{"year":2015,"month":6,"date":10,"utc":true},{"year":2015,"month":7,"date":27,"utc":true},{"year":2015,"month":9,"date":10,"utc":true},{"year":2015,"month":10,"date":26,"utc":true},{"year":2015,"month":12,"date":11,"utc":true},{"year":2016,"month":1,"date":27,"utc":true},{"year":2016,"month":3,"date":12,"utc":true},{"year":2016,"month":4,"date":27,"utc":true},{"year":2016,"month":6,"date":11,"utc":true},{"year":2016,"month":7,"date":27,"utc":true},{"year":2016,"month":9,"date":10,"utc":true},{"year":2016,"month":10,"date":26,"utc":true},{"year":2016,"month":12,"date":10,"utc":true},{"year":2017,"month":1,"date":24,"utc":true},{"year":2017,"month":3,"date":11,"utc":true},{"year":2017,"month":4,"date":25,"utc":true},{"year":2017,"month":6,"date":9,"utc":true},{"year":2017,"month":7,"date":25,"utc":true},{"year":2017,"month":9,"date":9,"utc":true},{"year":2017,"month":10,"date":25,"utc":true},{"year":2017,"month":12,"date":10,"utc":true},{"year":2018,"month":1,"date":26,"utc":true},{"year":2018,"month":3,"date":12,"utc":true},{"year":2018,"month":4,"date":27,"utc":true},{"year":2018,"month":6,"date":11,"utc":true},{"year":2018,"month":7,"date":27,"utc":true},{"year":2018,"month":9,"date":9,"utc":true},{"year":2018,"month":10,"date":24,"utc":true},{"year":2018,"month":12,"date":10,"utc":true},{"year":2019,"month":1,"date":28,"utc":true},{"year":2019,"month":3,"date":14,"utc":true},{"year":2019,"month":4,"date":29,"utc":true},{"year":2019,"month":6,"date":13,"utc":true},{"year":2019,"month":7,"date":29,"utc":true},{"year":2019,"month":9,"date":12,"utc":true},{"year":2019,"month":10,"date":28,"utc":true}]}},
     "y": {"field": "p", "type": "quantitative", "title": null,
      "scale": {"domain": [8004, 13869], "zero": false, "nice": false},
      "axis": {"orient": "right", "title": null, "grid": true, "ticks": true, "tickSize": 2, "labelPadding": 1, "format": ".1f", "labelOverlap": false, "tickCount": 100,
       "values": [13834, 13222, 12601, 12295, 11674, 11368, 11062, 10747, 10441, 10135, 9820, 9514, 9208, 8893, 8587, 8281]}}
    }},
   {"data": {"name": "ma_slow"}, "mark": {"type": "line", "color": "#000000", "strokeWidth": 1},
    "encoding": {"x": {"field": "d", "type": "temporal", "title": null}, "y": {"field": "p", "type": "quantitative", "title": null}}},
   {"data": {"name": "ma_mid"}, "mark": {"type": "line", "color": "#0000ff", "strokeWidth": 1.3},
    "encoding": {"x": {"field": "d", "type": "temporal", "title": null}, "y": {"field": "p", "type": "quantitative", "title": null}}},
   {"data": {"name": "ma_fast"}, "mark": {"type": "line", "color": "#ff0000", "strokeWidth": 1.3},
    "encoding": {"x": {"field": "d", "type": "temporal", "title": null}, "y": {"field": "p", "type": "quantitative", "title": null}}},
   {"data": {"name": "levels"}, "transform": [{"filter": "datum.name !== 'Last'"}],
    "mark": {"type": "rule", "strokeWidth": 1.6},
    "encoding": {"y": {"field": "p", "type": "quantitative", "title": null},
     "stroke": {"field": "name", "type": "nominal", "legend": null,
      "scale": {"domain": ["R3","R2","R1","S1","S2","S3"], "range": ["#008000","#008000","#008000","#f26d6d","#ff0000","#f26d6d"]}}}},
   {"data": {"name": "trend"}, "mark": {"type": "line", "color": "#000000", "strokeWidth": 2.5},
    "encoding": {"x": {"field": "d", "type": "temporal", "title": null}, "y": {"field": "p", "type": "quantitative", "title": null}, "detail": {"field": "line", "type": "nominal"}}},
   {"data": {"name": "levels"}, "transform": [{"filter": "datum.name !== 'Last'"}],
    "mark": {"type": "text", "baseline": "top", "align": "center", "dy": 2, "fontSize": 8},
    "encoding": {"x": {"datum": {"year":2019,"month":10,"date":30,"utc":true}, "type": "temporal", "title": null},
     "y": {"field": "p", "type": "quantitative", "title": null},
     "text": {"field": "name", "type": "nominal"},
     "fill": {"field": "name", "type": "nominal", "legend": null,
      "scale": {"domain": ["R3","R2","R1","S1","S2","S3","Last"], "range": ["#1f8f1f","#1f8f1f","#1f8f1f","#ff1a1a","#ff1a1a","#ff1a1a","#000000"]}}}},
   {"data": {"values": [{}]},
    "mark": {"type": "text", "align": "left", "baseline": "top", "dy": 1, "fontSize": 7, "color": "#000000", "text": "▼ GER30,Daily  11948.0 11974.5 11931.5 11965.0"},
    "encoding": {"x": {"datum": {"year":2013,"month":7,"date":22,"utc":true}, "type": "temporal", "title": null}, "y": {"datum": 13869, "type": "quantitative", "title": null}}},
   {"data": {"name": "levels"},
    "mark": {"type": "rect", "xOffset": 1, "x2Offset": 25, "yOffset": -4.5, "y2Offset": 4.5},
    "encoding": {"x": {"datum": {"year":2019,"month":11,"date":23,"utc":true}, "type": "temporal", "title": null},
     "x2": {"datum": {"year":2019,"month":11,"date":23,"utc":true}},
     "y": {"field": "p", "type": "quantitative", "title": null},
     "y2": {"field": "p"},
     "fill": {"field": "name", "type": "nominal", "legend": null}}},
   {"data": {"name": "levels"},
    "mark": {"type": "text", "dx": 13, "align": "center", "baseline": "middle", "fontSize": 6.5, "color": "#ffffff"},
    "encoding": {"x": {"datum": {"year":2019,"month":11,"date":23,"utc":true}, "type": "temporal", "title": null},
     "y": {"field": "p", "type": "quantitative", "title": null},
     "text": {"field": "p", "type": "quantitative", "format": ".1f"}}}
  ]
 },
 {
  "width": 870, "height": 45,
  "layer": [
   {"data": {"name": "rsi"}, "mark": {"type": "line", "color": "#1e90ff", "strokeWidth": 1},
    "encoding": {
     "x": {"field": "d", "type": "temporal", "title": null,
      "scale": {"type": "utc", "domain": [{"year":2013,"month":7,"date":15,"utc":true},{"year":2019,"month":11,"date":23,"utc":true}]},
      "axis": {"labels": false, "ticks": false, "grid": true, "domain": false, "title": null, "tickCount": 100,
       "values": [{"year":2013,"month":7,"date":18,"utc":true},{"year":2013,"month":9,"date":1,"utc":true},{"year":2013,"month":10,"date":16,"utc":true},{"year":2013,"month":12,"date":1,"utc":true},{"year":2014,"month":1,"date":17,"utc":true},{"year":2014,"month":3,"date":2,"utc":true},{"year":2014,"month":4,"date":17,"utc":true},{"year":2014,"month":6,"date":3,"utc":true},{"year":2014,"month":7,"date":21,"utc":true},{"year":2014,"month":9,"date":5,"utc":true},{"year":2014,"month":10,"date":20,"utc":true},{"year":2014,"month":12,"date":5,"utc":true},{"year":2015,"month":1,"date":22,"utc":true},{"year":2015,"month":3,"date":9,"utc":true},{"year":2015,"month":4,"date":24,"utc":true},{"year":2015,"month":6,"date":10,"utc":true},{"year":2015,"month":7,"date":27,"utc":true},{"year":2015,"month":9,"date":10,"utc":true},{"year":2015,"month":10,"date":26,"utc":true},{"year":2015,"month":12,"date":11,"utc":true},{"year":2016,"month":1,"date":27,"utc":true},{"year":2016,"month":3,"date":12,"utc":true},{"year":2016,"month":4,"date":27,"utc":true},{"year":2016,"month":6,"date":11,"utc":true},{"year":2016,"month":7,"date":27,"utc":true},{"year":2016,"month":9,"date":10,"utc":true},{"year":2016,"month":10,"date":26,"utc":true},{"year":2016,"month":12,"date":10,"utc":true},{"year":2017,"month":1,"date":24,"utc":true},{"year":2017,"month":3,"date":11,"utc":true},{"year":2017,"month":4,"date":25,"utc":true},{"year":2017,"month":6,"date":9,"utc":true},{"year":2017,"month":7,"date":25,"utc":true},{"year":2017,"month":9,"date":9,"utc":true},{"year":2017,"month":10,"date":25,"utc":true},{"year":2017,"month":12,"date":10,"utc":true},{"year":2018,"month":1,"date":26,"utc":true},{"year":2018,"month":3,"date":12,"utc":true},{"year":2018,"month":4,"date":27,"utc":true},{"year":2018,"month":6,"date":11,"utc":true},{"year":2018,"month":7,"date":27,"utc":true},{"year":2018,"month":9,"date":9,"utc":true},{"year":2018,"month":10,"date":24,"utc":true},{"year":2018,"month":12,"date":10,"utc":true},{"year":2019,"month":1,"date":28,"utc":true},{"year":2019,"month":3,"date":14,"utc":true},{"year":2019,"month":4,"date":29,"utc":true},{"year":2019,"month":6,"date":13,"utc":true},{"year":2019,"month":7,"date":29,"utc":true},{"year":2019,"month":9,"date":12,"utc":true},{"year":2019,"month":10,"date":28,"utc":true}]}},
     "y": {"field": "v", "type": "quantitative", "title": null, "scale": {"domain": [0, 100], "nice": false},
      "axis": {"orient": "right", "title": null, "values": [100, 70, 30, 0], "format": "d", "grid": true, "tickSize": 2, "labelPadding": 1, "labelOverlap": false, "tickCount": 100,
       "labelBaseline": {"condition": [{"test": "datum.value >= 100", "value": "top"}, {"test": "datum.value <= 0", "value": "bottom"}], "value": "middle"}}}
    }},
   {"data": {"values": [{}]},
    "mark": {"type": "text", "align": "left", "baseline": "top", "dy": 2, "fontSize": 7, "color": "#000000", "text": "RSI(14) 66.2731"},
    "encoding": {"x": {"datum": {"year":2013,"month":7,"date":22,"utc":true}, "type": "temporal", "title": null}, "y": {"datum": 100, "type": "quantitative", "title": null}}}
  ]
 },
 {
  "width": 870, "height": 39,
  "layer": [
   {"data": {"name": "stoch"}, "mark": {"type": "line", "color": "#20b2aa", "strokeWidth": 1},
    "encoding": {
     "x": {"field": "d", "type": "temporal", "title": null,
      "scale": {"type": "utc", "domain": [{"year":2013,"month":7,"date":15,"utc":true},{"year":2019,"month":11,"date":23,"utc":true}]},
      "axis": {"labels": false, "ticks": false, "grid": true, "domain": false, "title": null, "tickCount": 100,
       "values": [{"year":2013,"month":7,"date":18,"utc":true},{"year":2013,"month":9,"date":1,"utc":true},{"year":2013,"month":10,"date":16,"utc":true},{"year":2013,"month":12,"date":1,"utc":true},{"year":2014,"month":1,"date":17,"utc":true},{"year":2014,"month":3,"date":2,"utc":true},{"year":2014,"month":4,"date":17,"utc":true},{"year":2014,"month":6,"date":3,"utc":true},{"year":2014,"month":7,"date":21,"utc":true},{"year":2014,"month":9,"date":5,"utc":true},{"year":2014,"month":10,"date":20,"utc":true},{"year":2014,"month":12,"date":5,"utc":true},{"year":2015,"month":1,"date":22,"utc":true},{"year":2015,"month":3,"date":9,"utc":true},{"year":2015,"month":4,"date":24,"utc":true},{"year":2015,"month":6,"date":10,"utc":true},{"year":2015,"month":7,"date":27,"utc":true},{"year":2015,"month":9,"date":10,"utc":true},{"year":2015,"month":10,"date":26,"utc":true},{"year":2015,"month":12,"date":11,"utc":true},{"year":2016,"month":1,"date":27,"utc":true},{"year":2016,"month":3,"date":12,"utc":true},{"year":2016,"month":4,"date":27,"utc":true},{"year":2016,"month":6,"date":11,"utc":true},{"year":2016,"month":7,"date":27,"utc":true},{"year":2016,"month":9,"date":10,"utc":true},{"year":2016,"month":10,"date":26,"utc":true},{"year":2016,"month":12,"date":10,"utc":true},{"year":2017,"month":1,"date":24,"utc":true},{"year":2017,"month":3,"date":11,"utc":true},{"year":2017,"month":4,"date":25,"utc":true},{"year":2017,"month":6,"date":9,"utc":true},{"year":2017,"month":7,"date":25,"utc":true},{"year":2017,"month":9,"date":9,"utc":true},{"year":2017,"month":10,"date":25,"utc":true},{"year":2017,"month":12,"date":10,"utc":true},{"year":2018,"month":1,"date":26,"utc":true},{"year":2018,"month":3,"date":12,"utc":true},{"year":2018,"month":4,"date":27,"utc":true},{"year":2018,"month":6,"date":11,"utc":true},{"year":2018,"month":7,"date":27,"utc":true},{"year":2018,"month":9,"date":9,"utc":true},{"year":2018,"month":10,"date":24,"utc":true},{"year":2018,"month":12,"date":10,"utc":true},{"year":2019,"month":1,"date":28,"utc":true},{"year":2019,"month":3,"date":14,"utc":true},{"year":2019,"month":4,"date":29,"utc":true},{"year":2019,"month":6,"date":13,"utc":true},{"year":2019,"month":7,"date":29,"utc":true},{"year":2019,"month":9,"date":12,"utc":true},{"year":2019,"month":10,"date":28,"utc":true}]}},
     "y": {"field": "k", "type": "quantitative", "title": null, "scale": {"domain": [0, 100], "nice": false},
      "axis": {"orient": "right", "title": null, "values": [100, 80, 20, 0], "format": "d", "grid": true, "tickSize": 2, "labelPadding": 1, "labelOverlap": false, "tickCount": 100,
       "labelBaseline": {"condition": [{"test": "datum.value >= 80", "value": "top"}, {"test": "datum.value <= 20", "value": "bottom"}], "value": "middle"}}}
    }},
   {"data": {"name": "stoch"}, "mark": {"type": "line", "color": "#ff0000", "strokeWidth": 1},
    "encoding": {"x": {"field": "d", "type": "temporal", "title": null}, "y": {"field": "s", "type": "quantitative", "title": null}}},
   {"data": {"values": [{}]},
    "mark": {"type": "text", "align": "left", "baseline": "top", "dy": 1, "fontSize": 7, "color": "#000000", "text": "Stoch(5,3,3) 80.9045 88.5503"},
    "encoding": {"x": {"datum": {"year":2013,"month":7,"date":22,"utc":true}, "type": "temporal", "title": null}, "y": {"datum": 100, "type": "quantitative", "title": null}}}
  ]
 },
 {
  "width": 870, "height": 36,
  "layer": [
   {"data": {"name": "macd"}, "mark": {"type": "area", "color": "#c0c0c0"},
    "encoding": {
     "x": {"field": "d", "type": "temporal", "title": null,
      "scale": {"type": "utc", "domain": [{"year":2013,"month":7,"date":15,"utc":true},{"year":2019,"month":11,"date":23,"utc":true}]},
      "axis": {"grid": true, "domain": false, "title": null, "format": "%d %b %Y", "labelAlign": "left", "labelPadding": 1, "labelBound": false, "labelOverlap": false, "labelFlush": false, "tickSize": 3, "labelFontSize": 5.8, "tickCount": 100,
       "labelExpr": "indexof(['18 Jul 2013','16 Oct 2013','17 Jan 2014','17 Apr 2014','21 Jul 2014','20 Oct 2014','22 Jan 2015','24 Apr 2015','27 Jul 2015','26 Oct 2015','27 Jan 2016','27 Apr 2016','27 Jul 2016','26 Oct 2016','24 Jan 2017','25 Apr 2017','25 Jul 2017','25 Oct 2017','26 Jan 2018','27 Apr 2018','27 Jul 2018','24 Oct 2018','28 Jan 2019'], datum.label) >= 0 ? datum.label : ''",
       "tickOpacity": {"condition": {"test": "indexof(['18 Jul 2013','16 Oct 2013','17 Jan 2014','17 Apr 2014','21 Jul 2014','20 Oct 2014','22 Jan 2015','24 Apr 2015','27 Jul 2015','26 Oct 2015','27 Jan 2016','27 Apr 2016','27 Jul 2016','26 Oct 2016','24 Jan 2017','25 Apr 2017','25 Jul 2017','25 Oct 2017','26 Jan 2018','27 Apr 2018','27 Jul 2018','24 Oct 2018','28 Jan 2019'], utcFormat(datum.value, '%d %b %Y')) >= 0", "value": 1}, "value": 0},
       "values": [{"year":2013,"month":7,"date":18,"utc":true},{"year":2013,"month":9,"date":1,"utc":true},{"year":2013,"month":10,"date":16,"utc":true},{"year":2013,"month":12,"date":1,"utc":true},{"year":2014,"month":1,"date":17,"utc":true},{"year":2014,"month":3,"date":2,"utc":true},{"year":2014,"month":4,"date":17,"utc":true},{"year":2014,"month":6,"date":3,"utc":true},{"year":2014,"month":7,"date":21,"utc":true},{"year":2014,"month":9,"date":5,"utc":true},{"year":2014,"month":10,"date":20,"utc":true},{"year":2014,"month":12,"date":5,"utc":true},{"year":2015,"month":1,"date":22,"utc":true},{"year":2015,"month":3,"date":9,"utc":true},{"year":2015,"month":4,"date":24,"utc":true},{"year":2015,"month":6,"date":10,"utc":true},{"year":2015,"month":7,"date":27,"utc":true},{"year":2015,"month":9,"date":10,"utc":true},{"year":2015,"month":10,"date":26,"utc":true},{"year":2015,"month":12,"date":11,"utc":true},{"year":2016,"month":1,"date":27,"utc":true},{"year":2016,"month":3,"date":12,"utc":true},{"year":2016,"month":4,"date":27,"utc":true},{"year":2016,"month":6,"date":11,"utc":true},{"year":2016,"month":7,"date":27,"utc":true},{"year":2016,"month":9,"date":10,"utc":true},{"year":2016,"month":10,"date":26,"utc":true},{"year":2016,"month":12,"date":10,"utc":true},{"year":2017,"month":1,"date":24,"utc":true},{"year":2017,"month":3,"date":11,"utc":true},{"year":2017,"month":4,"date":25,"utc":true},{"year":2017,"month":6,"date":9,"utc":true},{"year":2017,"month":7,"date":25,"utc":true},{"year":2017,"month":9,"date":9,"utc":true},{"year":2017,"month":10,"date":25,"utc":true},{"year":2017,"month":12,"date":10,"utc":true},{"year":2018,"month":1,"date":26,"utc":true},{"year":2018,"month":3,"date":12,"utc":true},{"year":2018,"month":4,"date":27,"utc":true},{"year":2018,"month":6,"date":11,"utc":true},{"year":2018,"month":7,"date":27,"utc":true},{"year":2018,"month":9,"date":9,"utc":true},{"year":2018,"month":10,"date":24,"utc":true},{"year":2018,"month":12,"date":10,"utc":true},{"year":2019,"month":1,"date":28,"utc":true},{"year":2019,"month":3,"date":14,"utc":true},{"year":2019,"month":4,"date":29,"utc":true},{"year":2019,"month":6,"date":13,"utc":true},{"year":2019,"month":7,"date":29,"utc":true},{"year":2019,"month":9,"date":12,"utc":true},{"year":2019,"month":10,"date":28,"utc":true}]}},
     "y": {"field": "m", "type": "quantitative", "title": null, "scale": {"domain": [-292.96, 168.77], "nice": false, "zero": false},
      "axis": {"orient": "right", "title": null, "values": [168.77, 0, -292.96], "format": ".2f", "grid": false, "tickSize": 2, "labelPadding": 1, "labelOverlap": false, "tickCount": 100,
       "labelBaseline": {"condition": [{"test": "datum.value > 100", "value": "top"}, {"test": "datum.value < -100", "value": "bottom"}], "value": "middle"}}},
     "y2": {"datum": 0}
    }},
   {"data": {"name": "macd"}, "mark": {"type": "line", "color": "#ff0000", "strokeWidth": 1},
    "encoding": {"x": {"field": "d", "type": "temporal", "title": null}, "y": {"field": "s", "type": "quantitative", "title": null}}},
   {"data": {"values": [{}]},
    "mark": {"type": "text", "align": "left", "baseline": "top", "dy": 1, "fontSize": 7, "color": "#000000", "text": "MACD(12,26,9) 138.06 82.63"},
    "encoding": {"x": {"datum": {"year":2013,"month":7,"date":22,"utc":true}, "type": "temporal", "title": null}, "y": {"datum": 168.77, "type": "quantitative", "title": null}}}
  ]
 }
]
}
